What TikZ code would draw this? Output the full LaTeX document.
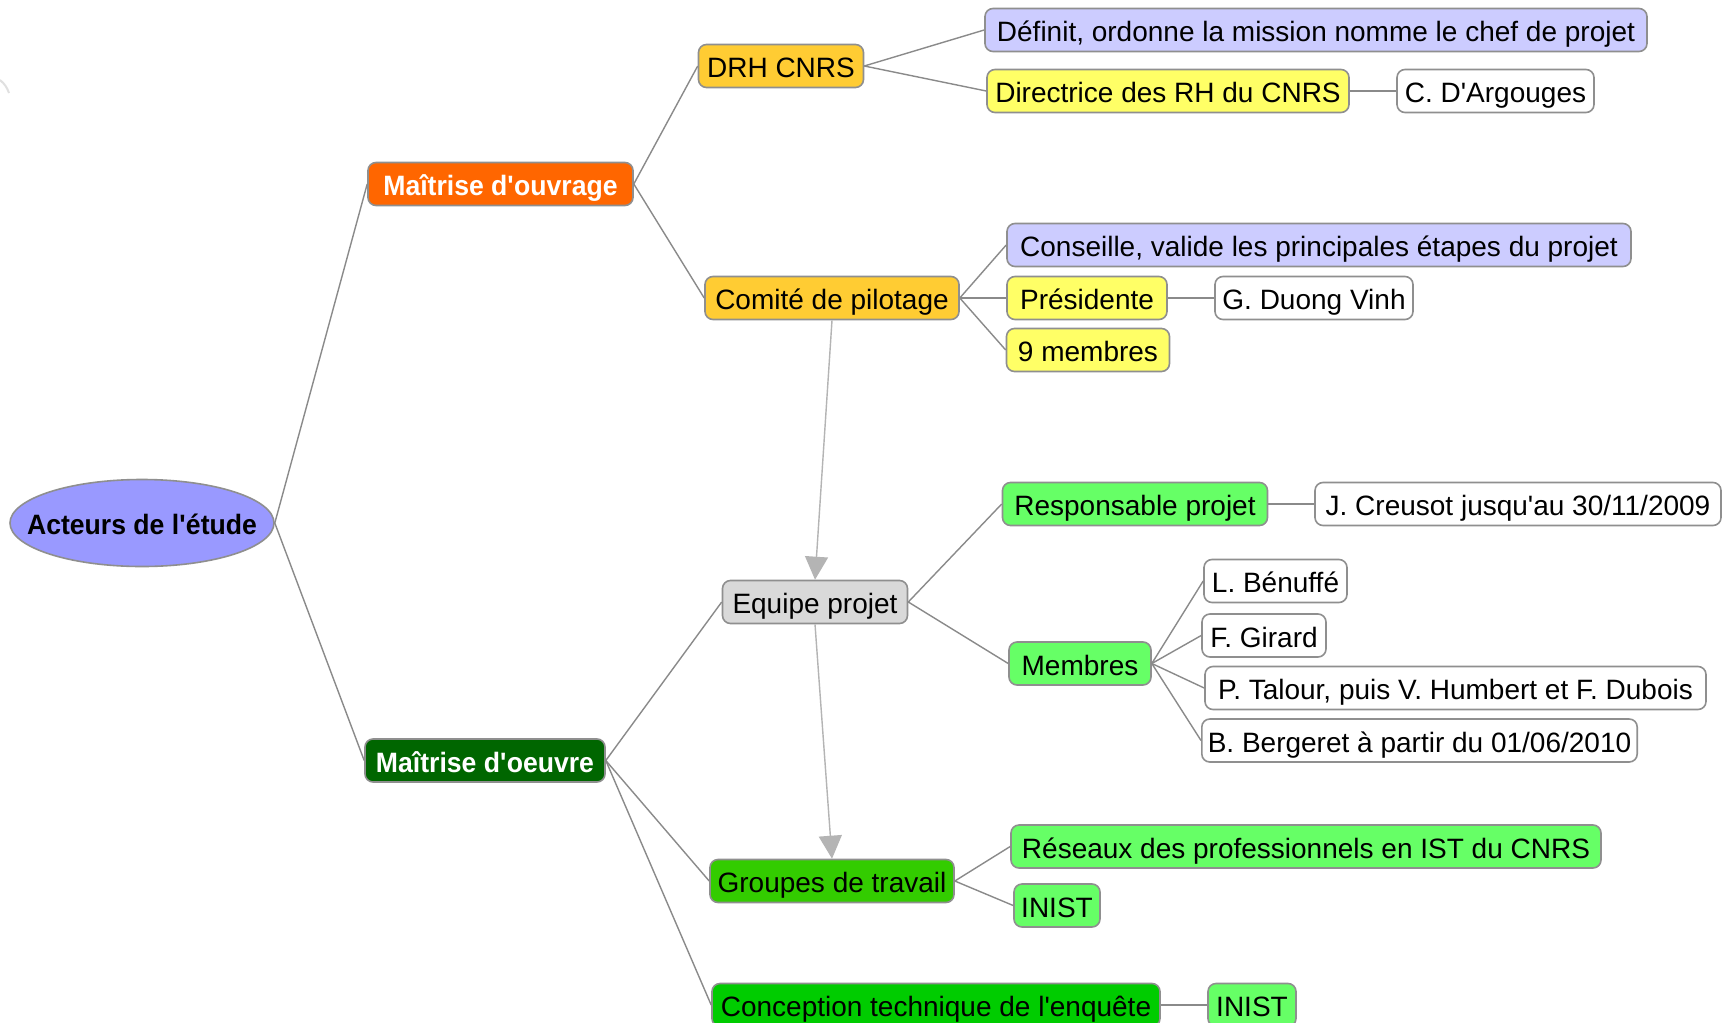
\documentclass[tikz,border=0pt]{standalone}
\usepackage{fontspec}
\setmainfont{Liberation Sans}[BoldFeatures={FakeStretch=0.95}]
\usetikzlibrary{arrows.meta,shapes.geometric}
\newcommand{\aq}{\textquotesingle}
\definecolor{cRoot}{HTML}{9999FF}
\definecolor{cOrange}{HTML}{FF6600}
\definecolor{cGold}{HTML}{FFCC33}
\definecolor{cLav}{HTML}{CCCCFF}
\definecolor{cYel}{HTML}{FFFF66}
\definecolor{cGray}{HTML}{D9D9D9}
\definecolor{cLGreen}{HTML}{66FF66}
\definecolor{cDkGreen}{HTML}{006600}
\definecolor{cGreen}{HTML}{33CC00}
\definecolor{cBGreen}{HTML}{00CC00}
\definecolor{cBorder}{HTML}{8F8F8F}
\definecolor{cLine}{HTML}{8A8A8A}
\definecolor{cArrow}{HTML}{B4B4B4}
\begin{document}
\begin{tikzpicture}[x=0.5pt,y=-0.5pt,
  box/.style={rectangle, rounded corners=4pt, draw=cBorder, line width=0.8pt,
    minimum height=21.5pt, inner xsep=3pt, inner ysep=0pt,
    text height=11.5pt, text depth=0pt,
    font=\fontsize{14}{16}\selectfont, text=black},
  strong/.style={font=\bfseries\fontsize{14}{16}\selectfont, text=white},
  bw/.style={minimum width=#1*0.5pt},
  conn/.style={draw=cLine, line width=0.7pt},
  arr/.style={draw=cArrow, line width=0.7pt, -{Triangle[length=11.5pt,width=11.5pt]}}
]
\useasboundingbox (0,0) rectangle (1730,1023);
\fill[white] (0,0) rectangle (1730,1023);
% faint remnant at the left edge
\draw[black!12, line width=1pt] (0,80) to[bend left=15] (9,93);

% root
\node[ellipse, draw=cBorder, line width=0.8pt, fill=cRoot, minimum width=132pt,
  minimum height=43.5pt, inner sep=0pt, text height=11.5pt, text depth=0pt,
  font=\bfseries\fontsize{14}{16}\selectfont] (root) at (142,523)
  {\makebox[0pt]{Acteurs de l\aq étude}};

% Maitrise d'ouvrage branch
\node[box, strong, fill=cOrange, bw=265] (mo) at (500.5,184) {Maîtrise d\aq ouvrage};
\node[box, fill=cGold, bw=165] (drh) at (781,66) {DRH CNRS};
\node[box, fill=cLav, bw=662] (def) at (1316,30) {Définit, ordonne la mission nomme le chef de projet};
\node[box, fill=cYel, bw=362] (dir) at (1168,91) {Directrice des RH du CNRS};
\node[box, fill=white, bw=197] (darg) at (1495.5,91) {C. D\aq Argouges};
\node[box, fill=cGold, bw=254] (com) at (832,298) {Comité de pilotage};
\node[box, fill=cLav, bw=624] (cons) at (1319,245) {Conseille, valide les principales étapes du projet};
\node[box, fill=cYel, bw=160] (pres) at (1087,298) {Présidente};
\node[box, fill=white, bw=198] (gdv) at (1314,298) {G. Duong Vinh};
\node[box, fill=cYel, bw=163] (neuf) at (1088,350) {9 membres};

% Maitrise d'oeuvre branch
\node[box, strong, fill=cDkGreen, bw=240] (md) at (485,760.5) {Maîtrise d\aq oeuvre};
\node[box, fill=cGray, bw=185] (eq) at (815,602) {Equipe projet};
\node[box, fill=cLGreen, bw=265] (resp) at (1135,504) {Responsable projet};
\node[box, fill=white, bw=406] (jcr) at (1518,504) {J. Creusot jusqu\aq au 30/11/2009};
\node[box, fill=cLGreen, bw=142] (mem) at (1080,663.5) {Membres};
\node[box, fill=white, bw=143] (ben) at (1275.5,581) {L. Bénuffé};
\node[box, fill=white, bw=124] (gir) at (1264,635.5) {F. Girard};
\node[box, fill=white, bw=501] (tal) at (1455.5,688) {P. Talour, puis V. Humbert et F. Dubois};
\node[box, fill=white, bw=435] (ber) at (1419.5,740.5) {B. Bergeret à partir du 01/06/2010};
\node[box, fill=cGreen, bw=244] (grp) at (832,881) {Groupes de travail};
\node[box, fill=cLGreen, bw=590] (res) at (1306,846.5) {Réseaux des professionnels en IST du CNRS};
\node[box, fill=cLGreen, bw=86] (ini1) at (1057,905.5) {INIST};
\node[box, fill=cBGreen, bw=448] (con) at (936,1005) {Conception technique de l\aq enquête};
\node[box, fill=cLGreen, bw=88] (ini2) at (1252,1005) {INIST};

% connectors
\draw[conn] (root.east) -- (mo.west);
\draw[conn] (root.east) -- (md.west);
\draw[conn] (mo.east) -- (drh.west);
\draw[conn] (mo.east) -- (com.west);
\draw[conn] (drh.east) -- (def.west);
\draw[conn] (drh.east) -- (dir.west);
\draw[conn] (dir.east) -- (darg.west);
\draw[conn] (com.east) -- (cons.west);
\draw[conn] (com.east) -- (pres.west);
\draw[conn] (com.east) -- (neuf.west);
\draw[conn] (pres.east) -- (gdv.west);
\draw[conn] (md.east) -- (eq.west);
\draw[conn] (md.east) -- (grp.west);
\draw[conn] (md.east) -- (con.west);
\draw[conn] (eq.east) -- (resp.west);
\draw[conn] (eq.east) -- (mem.west);
\draw[conn] (resp.east) -- (jcr.west);
\draw[conn] (mem.east) -- (ben.west);
\draw[conn] (mem.east) -- (gir.west);
\draw[conn] (mem.east) -- (tal.west);
\draw[conn] (mem.east) -- (ber.west);
\draw[conn] (grp.east) -- (res.west);
\draw[conn] (grp.east) -- (ini1.west);
\draw[conn] (con.east) -- (ini2.west);
\draw[arr] (com.south) -- (eq.north);
\draw[arr] (eq.south) -- (grp.north);
\end{tikzpicture}
\end{document}
